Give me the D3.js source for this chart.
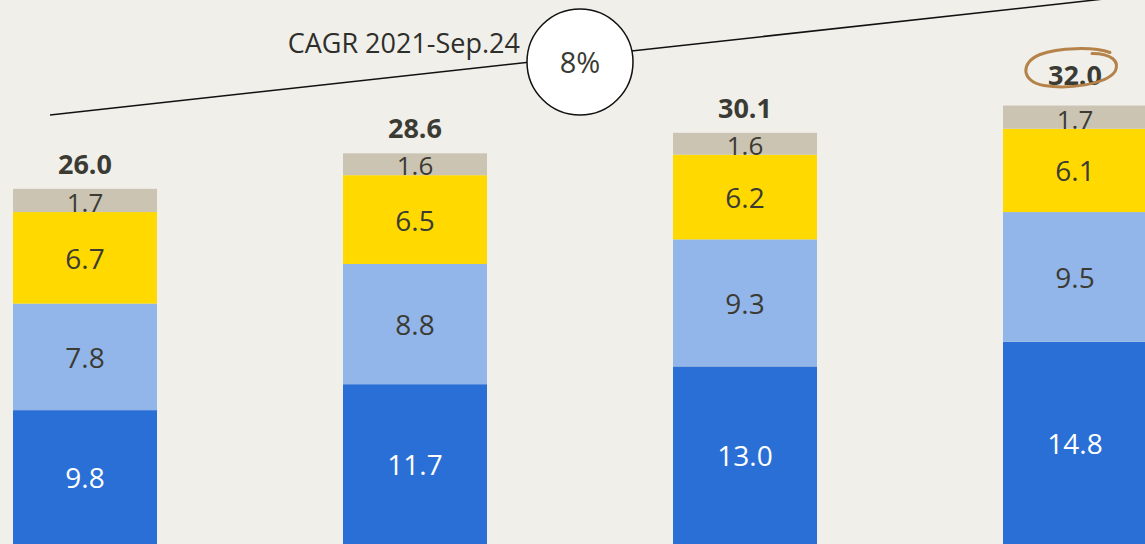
<!DOCTYPE html>
<html>
<head>
<meta charset="utf-8">
<script src="https://cdn.jsdelivr.net/npm/d3@7"></script>
<style>
  html, body { margin: 0; padding: 0; background: #f0efea; }
  svg { display: block; }
  text { font-family: "Open Sans", "Noto Sans", sans-serif; }
</style>
</head>
<body>
<div id="chart"></div>
<script>
(function() {

  var categories = ["2021", "2022", "2023", "Sep.24"];
  var series = ["base", "second", "third", "other"];
  var baseValues = [9.8, 11.7, 13.0, 14.8];
  var secondValues = [7.8, 8.8, 9.3, 9.5];
  var thirdValues = [6.7, 6.5, 6.2, 6.1];
  var otherValues = [1.7, 1.6, 1.6, 1.7];
  var totalLabels = ["26.0", "28.6", "30.1", "32.0"];
  var cagrLabel = "CAGR 2021-Sep.24";
  var cagrValue = "8%";

  var width = 1145, height = 544;
  var colors = {
    base: "#2a6fd6",
    second: "#93b6ea",
    third: "#ffd900",
    other: "#cbc4b3"
  };
  var labelColors = {
    base: "#ffffff",
    second: "#3b3b33",
    third: "#3b3b33",
    other: "#3b3b33"
  };

  var rows = categories.map(function(c, i) {
    return {
      cat: c,
      base: baseValues[i],
      second: secondValues[i],
      third: thirdValues[i],
      other: otherValues[i]
    };
  });

  var stacked = d3.stack().keys(series)(rows);

  var x = d3.scaleBand()
    .domain(categories)
    .range([13, 1147])
    .paddingInner(186 / 330)
    .paddingOuter(0);

  var y = d3.scaleLinear()
    .domain([0, 32])
    .range([544, 544 - 32 * 13.66]);

  var svg = d3.select("#chart").append("svg")
    .attr("width", width)
    .attr("height", height);

  svg.append("rect")
    .attr("width", width)
    .attr("height", height)
    .attr("fill", "#f0efea");

  var layer = svg.selectAll("g.layer")
    .data(stacked)
    .enter().append("g")
    .attr("class", "layer");

  layer.selectAll("rect")
    .data(function(d) { return d.map(function(p) { p.key = d.key; return p; }); })
    .enter().append("rect")
    .attr("x", function(d) { return x(d.data.cat); })
    .attr("y", function(d) { return y(d[1]); })
    .attr("width", x.bandwidth())
    .attr("height", function(d) { return y(d[0]) - y(d[1]); })
    .attr("fill", function(d) { return colors[d.key]; });

  // thin top segment gets slightly smaller text, sitting on its bottom edge
  layer.selectAll("text")
    .data(function(d) { return d; })
    .enter().append("text")
    .attr("x", function(d) { return x(d.data.cat) + x.bandwidth() / 2; })
    .attr("y", function(d) {
      if (d.key === "other") return y(d[0]);
      return (y(d[0]) + y(d[1])) / 2 + 1;
    })
    .attr("dy", function(d) { return d.key === "other" ? "0" : "0.36em"; })
    .attr("text-anchor", "middle")
    .attr("font-size", function(d) { return d.key === "other" ? 26 : 28; })
    .attr("fill", function(d) { return labelColors[d.key]; })
    .text(function(d) { return d.data[d.key].toFixed(1); });

  // totals above bars (last one lifted into its ring)
  var top = stacked[stacked.length - 1];
  var n = top.length;
  svg.selectAll("text.total")
    .data(top)
    .enter().append("text")
    .attr("class", "total")
    .attr("x", function(d) { return x(d.data.cat) + x.bandwidth() / 2; })
    .attr("y", function(d, i) {
      return y(d[1]) - (i === n - 1 ? 21 : 15);
    })
    .attr("text-anchor", "middle")
    .attr("font-size", 27)
    .attr("font-weight", "bold")
    .attr("fill", "#3b3b33")
    .text(function(d, i) { return totalLabels[i]; });

  // hand drawn ring around last total
  var last = top[n - 1];
  var cx = x(last.data.cat) + x.bandwidth() / 2 - 5, cy = y(last[1]) - 38;
  var ring = d3.path();
  ring.moveTo(cx + 40, cy - 15);
  ring.bezierCurveTo(cx + 24, cy - 21, cx - 12, cy - 20, cx - 30, cy - 13);
  ring.bezierCurveTo(cx - 50, cy - 5, cx - 49, cy + 14, cx - 26, cy + 18);
  ring.bezierCurveTo(cx - 2, cy + 22, cx + 36, cy + 17, cx + 45, cy + 4);
  ring.bezierCurveTo(cx + 50, cy - 6, cx + 42, cy - 14, cx + 22, cy - 14);
  svg.append("path")
    .attr("d", ring.toString())
    .attr("fill", "none")
    .attr("stroke", "#b5834a")
    .attr("stroke-width", 3)
    .attr("stroke-linecap", "round");

  // CAGR line and circle
  svg.append("line")
    .attr("x1", 50).attr("y1", 115)
    .attr("x2", 1122).attr("y2", -3)
    .attr("stroke", "#111")
    .attr("stroke-width", 1.5);

  svg.append("circle")
    .attr("cx", 580).attr("cy", 62).attr("r", 53)
    .attr("fill", "#ffffff")
    .attr("stroke", "#111")
    .attr("stroke-width", 1.5);

  svg.append("text")
    .attr("x", 580).attr("y", 63)
    .attr("dy", "0.36em")
    .attr("text-anchor", "middle")
    .attr("font-size", 29)
    .attr("fill", "#3b3b33")
    .text(cagrValue);

  svg.append("text")
    .attr("x", 520).attr("y", 43)
    .attr("dy", "0.36em")
    .attr("text-anchor", "end")
    .attr("font-size", 27)
    .attr("fill", "#2e2e2a")
    .text(cagrLabel);

})();
</script>
</body>
</html>
